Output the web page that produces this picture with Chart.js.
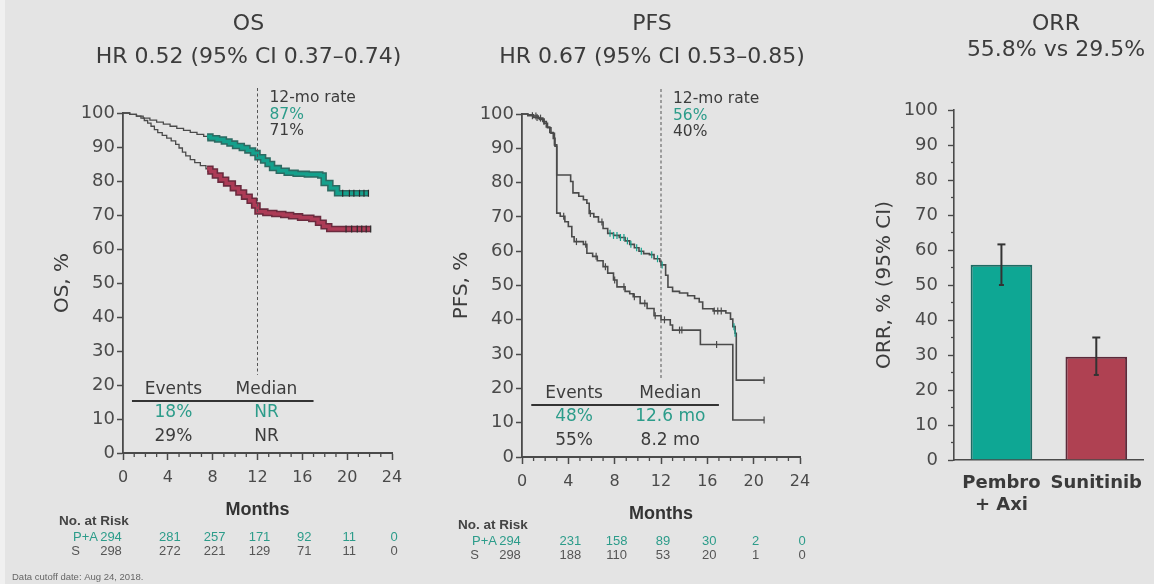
<!DOCTYPE html>
<html>
<head>
<meta charset="utf-8">
<title>KEYNOTE-426 efficacy: OS, PFS and ORR</title>
<script src="https://cdn.jsdelivr.net/npm/chart.js@4.4.0/dist/chart.umd.min.js"></script>
<style>
  html, body { margin: 0; padding: 0; width: 1154px; height: 584px; overflow: hidden; background: #e4e4e4; }
  .edge { position: absolute; left: 0; top: 0; width: 5px; height: 584px; background: #f0f0f0; }
  canvas { position: absolute; top: 0; }
  #os { left: 0; }
  #pfs { left: 420px; }
  #orr { left: 860px; }
</style>
</head>
<body>
<div class="edge"></div>
<canvas id="os" width="430" height="584"></canvas>
<canvas id="pfs" width="420" height="584"></canvas>
<canvas id="orr" width="294" height="584"></canvas>
<script>
// ---- Panel texts ----
const osTitle = ['OS', 'HR 0.52 (95% CI 0.37–0.74)'];
const pfsTitle = ['PFS', 'HR 0.67 (95% CI 0.53–0.85)'];
const orrTitle = ['ORR', '55.8% vs 29.5%'];
const rateHeading = '12-mo rate';
const osRate12 = ['87%', '71%'];
const pfsRate12 = ['56%', '40%'];
const tableHeads = ['Events', 'Median'];
const osEvents = ['18%', '29%'];
const osMedian = ['NR', 'NR'];
const pfsEvents = ['48%', '55%'];
const pfsMedian = ['12.6 mo', '8.2 mo'];
const armLabels = ['P+A', 'S'];
const cutoffNote = 'Data cutoff date: Aug 24, 2018.';

// ---- Numbers at risk ----
const riskMonths = [0, 4, 8, 12, 16, 20, 24];
const osRiskPA = [294, 281, 257, 171, 92, 11, 0];
const osRiskS = [298, 272, 221, 129, 71, 11, 0];
const pfsRiskPA = [294, 231, 158, 89, 30, 2, 0];
const pfsRiskS = [298, 188, 110, 53, 20, 1, 0];

// ---- Kaplan-Meier steps: [month, % event-free] ----
const osPembroAxi = [[0,100],[0.6,99.6],[1.2,99.1],[1.8,98.5],[2.4,97.9],[3.0,97.3],[3.6,96.7],[4.2,96.1],
  [4.8,95.5],[5.4,94.9],[6.0,94.3],[6.6,93.7],[7.2,93.1],[7.8,92.6],[8.4,92.2],[9.0,91.6],[9.5,91.0],
  [10.0,90.3],[10.6,89.7],[11.1,89.0],[11.6,88.2],[12.0,87.0],[12.5,86.0],[12.9,85.0],[13.3,83.8],
  [13.9,83.0],[14.6,82.4],[15.4,82.1],[16.4,81.9],[17.6,81.6],[17.9,79.4],[18.5,77.9],[19.1,76.4],[21.9,76.4]];
const osSunitinib = [[0,100],[0.6,99.6],[1.2,99.1],[1.6,98.5],[1.9,97.8],[2.2,97.0],[2.5,96.1],[2.8,95.1],
  [3.1,94.2],[3.5,93.4],[3.9,92.6],[4.3,91.8],[4.7,90.8],[5.0,89.7],[5.3,88.5],[5.6,87.4],[6.0,86.3],
  [6.4,85.4],[6.9,84.5],[7.4,83.6],[7.8,82.8],[8.2,81.6],[8.7,80.4],[9.2,79.3],[9.8,77.9],[10.3,76.6],
  [10.8,75.4],[11.3,74.2],[11.7,72.8],[12.0,71.0],[12.7,70.6],[13.5,70.3],[14.3,70.0],[15.0,69.6],
  [15.8,69.2],[16.8,68.8],[17.4,67.7],[17.9,66.7],[18.4,65.9],[22.1,65.9]];
const osBandStart = 7.5;
const osPembroAxiCensored = [19.6, 20.2, 20.6, 21.1, 21.5, 21.9];
const osSunitinibCensored = [19.9, 20.4, 20.9, 21.3, 21.7, 22.1];

const pfsPembroAxi = [[0,100],[0.5,99.8],[1.0,99.4],[1.4,98.8],[1.8,97.8],[2.1,96.2],[2.4,94.6],[2.7,92.9],
  [2.85,90.6],[3.0,82.2],[4.2,80.3],[4.4,77.0],[4.9,76.0],[5.3,75.0],[5.6,74.0],[5.8,71.0],[6.2,70.0],
  [6.6,68.5],[7.0,66.6],[7.4,65.2],[7.9,64.6],[8.4,64.0],[8.9,63.0],[9.3,62.0],[9.7,61.0],[10.1,60.0],
  [10.5,59.3],[11.0,59.0],[11.4,57.8],[11.9,57.0],[12.0,56.0],[12.4,53.0],[12.6,49.5],[13.0,48.3],
  [13.6,47.8],[14.3,47.0],[14.9,46.2],[15.3,45.2],[15.6,43.2],[16.5,42.6],[17.6,42.0],[18.0,40.2],
  [18.2,38.0],[18.4,36.1],[18.5,22.4],[20.9,22.4]];
const pfsSunitinib = [[0,100],[0.5,99.5],[1.0,99.0],[1.5,98.4],[1.9,97.3],[2.2,96.0],[2.5,94.4],[2.8,91.0],
  [3.0,71.1],[3.3,70.2],[3.7,68.6],[4.0,67.2],[4.3,64.2],[4.5,62.8],[5.3,62.0],[5.6,59.4],[6.1,58.5],
  [6.5,57.2],[7.0,55.5],[7.4,53.6],[7.9,51.6],[8.2,49.6],[8.9,48.3],[9.3,47.6],[9.6,46.7],[10.2,44.8],
  [10.8,43.3],[11.4,41.2],[12.0,40.0],[12.8,38.5],[13.0,37.0],[15.4,32.8],[18.2,10.8],[20.9,10.8]];
const pfsPembroAxiCensored = [1.2, 1.6, 1.9, 5.9, 6.9, 16.6, 16.9, 17.2, 20.9];
const pfsPembroAxiCensoredTeal = [7.6, 7.9, 8.2, 8.5, 8.8, 9.1, 9.4, 9.9, 10.3, 11.2, 11.7, 12.1, 18.3, 18.4];
const pfsSunitinibCensored = [0.9, 1.3, 3.6, 4.7, 5.5, 6.4, 7.2, 8.0, 8.8, 9.7, 10.6, 11.5, 12.3, 13.6, 13.8, 16.8, 20.9];

// ---- Objective response rate ----
const orrCategories = [['Pembro', '+ Axi'], 'Sunitinib'];
const orrValues = [55.8, 29.5];
const orrCiLow = [50.0, 24.3];
const orrCiHigh = [61.6, 35.0];

// ---- Styling ----
const SANS = '"DejaVu Sans", Verdana, sans-serif';
const ARIAL = '"Liberation Sans", Arial, sans-serif';
const AXIS = '#4a4a4a';
const TXT = '#3c3c3c';
const TICK_TXT = '#4a4a4a';
const TEAL = '#14a08c';
const TEAL_TXT = '#2c9c8a';
const TEAL_EDGE = '#2d6a62';
const CRIMSON = '#ac3b56';
const CRIMSON_EDGE = '#6a2b3e';
const CURVE = '#4a4a4a';

function survivalAt(steps, t) {
  let v = steps[0][1];
  for (const [m, s] of steps) { if (m <= t) v = s; }
  return v;
}
function stepsFrom(steps, from) {
  return [[from, survivalAt(steps, from)], ...steps.filter(([m]) => m > from)];
}
function toXY(steps) { return steps.map(([m, s]) => ({ x: m, y: s })); }
function seg(ctx, x1, y1, x2, y2) { ctx.beginPath(); ctx.moveTo(x1, y1); ctx.lineTo(x2, y2); ctx.stroke(); }
function text(ctx, str, x, y, font, color, align = 'center') {
  ctx.font = font; ctx.fillStyle = color; ctx.textAlign = align; ctx.textBaseline = 'middle';
  ctx.fillText(str, x, y);
}

// Panel decorations: titles, 12-month marker, events table, axis titles and risk table
function kmDecor(cfg) {
  return {
    id: 'kmDecor',
    afterDraw(chart) {
      const { ctx, chartArea: a, scales: { x, y } } = chart;
      const cx = (a.left + a.right) / 2;
      ctx.save();

      ctx.strokeStyle = AXIS; ctx.lineWidth = 1.3;
      for (let m = 1; m < 24; m++) {
        if (m % 4) { const px = x.getPixelForValue(m); seg(ctx, px, a.bottom, px, a.bottom + 4); }
      }

      const x12 = x.getPixelForValue(12);
      ctx.setLineDash([3, 2.5]); ctx.lineWidth = 1; ctx.strokeStyle = '#555';
      seg(ctx, x12, a.top - 25, x12, y.getPixelForValue(23));
      ctx.setLineDash([]);

      const titleFont = '22px ' + SANS;
      text(ctx, cfg.title[0], cx - 9, 24, titleFont, TXT);
      text(ctx, cfg.title[1], cx - 9, 57, titleFont, TXT);

      const rateFont = '15.5px ' + SANS;
      text(ctx, rateHeading, x12 + 12, a.top - 15, rateFont, TXT, 'left');
      text(ctx, cfg.rate[0], x12 + 12, a.top + 2, rateFont, TEAL_TXT, 'left');
      text(ctx, cfg.rate[1], x12 + 12, a.top + 18, rateFont, TXT, 'left');

      const tFont = '17px ' + SANS;
      const cEv = x.getPixelForValue(4.5), cMed = x.getPixelForValue(12.8);
      text(ctx, tableHeads[0], cEv, a.bottom - 63, tFont, TXT);
      text(ctx, tableHeads[1], cMed, a.bottom - 63, tFont, TXT);
      ctx.lineWidth = 2; ctx.strokeStyle = '#333';
      seg(ctx, x.getPixelForValue(0.8), a.bottom - 52, x.getPixelForValue(17), a.bottom - 52);
      text(ctx, cfg.events[0], cEv, a.bottom - 40, tFont, TEAL_TXT);
      text(ctx, cfg.median[0], cMed, a.bottom - 40, tFont, TEAL_TXT);
      text(ctx, cfg.events[1], cEv, a.bottom - 16, tFont, TXT);
      text(ctx, cfg.median[1], cMed, a.bottom - 16, tFont, TXT);

      text(ctx, 'Months', cx, a.bottom + 57, 'bold 18px ' + ARIAL, '#333');

      ctx.save();
      ctx.translate(a.left - 60, (a.top + a.bottom) / 2);
      ctx.rotate(-Math.PI / 2);
      text(ctx, cfg.yTitle, 0, 0, '20px ' + SANS, TXT);
      ctx.restore();

      text(ctx, 'No. at Risk', a.left - 64, a.bottom + 68, 'bold 13.5px ' + ARIAL, '#444', 'left');
      const rFont = '13px ' + ARIAL;
      const rowY = [a.bottom + 84, a.bottom + 98];
      text(ctx, armLabels[0], a.left - 25, rowY[0], rFont, TEAL_TXT, 'right');
      text(ctx, armLabels[1], a.left - 43, rowY[1], rFont, '#555', 'right');
      riskMonths.forEach((m, i) => {
        const px = i === 0 ? a.left - 12 : x.getPixelForValue(m) + 2;
        text(ctx, String(cfg.riskPA[i]), px, rowY[0], rFont, TEAL_TXT);
        text(ctx, String(cfg.riskS[i]), px, rowY[1], rFont, '#555');
      });

      if (cfg.note) text(ctx, cfg.note, 12, 577, '9.5px ' + ARIAL, '#666', 'left');
      ctx.restore();
    }
  };
}

function kmChart(id, cfg) {
  const datasets = [];
  cfg.censor.forEach(c => datasets.push({
    data: c.times.map(t => ({ x: t, y: survivalAt(c.steps, t) })),
    showLine: false, pointStyle: 'line', pointRotation: 90, pointRadius: 3.5,
    pointBorderWidth: 1.2, pointBorderColor: c.color, clip: false
  }));
  cfg.bands.forEach(b => datasets.push({
    data: toXY(stepsFrom(b.steps, b.from)), stepped: true, borderColor: b.color,
    borderWidth: 3.4, pointRadius: 0, clip: false
  }));
  cfg.bands.forEach(b => datasets.push({
    data: toXY(stepsFrom(b.steps, b.from)), stepped: true, borderColor: b.edge,
    borderWidth: 6.5, pointRadius: 0, clip: false
  }));
  cfg.curves.forEach(c => datasets.push({
    data: toXY(c), stepped: true, borderColor: CURVE, borderWidth: cfg.lineWidth,
    pointRadius: 0, clip: false
  }));

  return new Chart(document.getElementById(id), {
    type: 'line',
    data: { datasets },
    options: {
      responsive: false,
      animation: false,
      events: [],
      layout: { padding: { left: 0, right: cfg.padRight, top: cfg.top, bottom: cfg.padBottom } },
      plugins: { legend: { display: false }, tooltip: { enabled: false }, title: { display: false } },
      scales: {
        x: {
          type: 'linear', min: 0, max: 24,
          afterFit: s => { s.height = 30; },
          ticks: { stepSize: 4, font: { family: SANS, size: 16 }, color: TICK_TXT, padding: 8, maxRotation: 0, autoSkip: false },
          grid: { drawOnChartArea: false, tickLength: 7, tickWidth: 1.5, tickColor: AXIS },
          border: { color: AXIS, width: 2 }
        },
        y: {
          min: 0, max: 100,
          afterFit: s => { s.width = cfg.left; },
          ticks: { stepSize: 10, font: { family: SANS, size: 18 }, color: TICK_TXT, padding: 2 },
          grid: { drawOnChartArea: false, tickLength: 6, tickWidth: 1.5, tickColor: AXIS },
          border: { color: AXIS, width: 1.8 }
        }
      }
    },
    plugins: [kmDecor(cfg)]
  });
}

kmChart('os', {
  left: 123, padRight: 38, top: 113, padBottom: 584 - 453 - 30, lineWidth: 1.3,
  title: osTitle, rate: osRate12, events: osEvents, median: osMedian, yTitle: 'OS, %',
  riskPA: osRiskPA, riskS: osRiskS, note: cutoffNote,
  curves: [osPembroAxi, osSunitinib],
  bands: [
    { steps: osPembroAxi, from: osBandStart, color: TEAL, edge: TEAL_EDGE },
    { steps: osSunitinib, from: osBandStart, color: CRIMSON, edge: CRIMSON_EDGE }
  ],
  censor: [
    { steps: osPembroAxi, times: osPembroAxiCensored, color: '#2a2a2a' },
    { steps: osSunitinib, times: osSunitinibCensored, color: '#2a2a2a' }
  ]
});

kmChart('pfs', {
  left: 102, padRight: 40, top: 114, padBottom: 584 - 457 - 30, lineWidth: 1.6,
  title: pfsTitle, rate: pfsRate12, events: pfsEvents, median: pfsMedian, yTitle: 'PFS, %',
  riskPA: pfsRiskPA, riskS: pfsRiskS, note: null,
  curves: [pfsPembroAxi, pfsSunitinib],
  bands: [],
  censor: [
    { steps: pfsPembroAxi, times: pfsPembroAxiCensoredTeal, color: TEAL },
    { steps: pfsPembroAxi, times: pfsPembroAxiCensored, color: '#4a4a4a' },
    { steps: pfsSunitinib, times: pfsSunitinibCensored, color: '#4a4a4a' }
  ]
});

// Response-rate bars with 95% CI whiskers
const orrDecor = {
  id: 'orrDecor',
  afterDraw(chart) {
    const { ctx, chartArea: a, scales: { y } } = chart;
    ctx.save();
    text(ctx, orrTitle[0], 196, 24, '22px ' + SANS, TXT);
    text(ctx, orrTitle[1], 196, 50, '22px ' + SANS, TXT);

    ctx.strokeStyle = AXIS; ctx.lineWidth = 1.3;
    for (let v = 5; v < 100; v += 10) {
      const py = y.getPixelForValue(v); seg(ctx, a.left - 3, py, a.left, py);
    }

    ctx.save();
    ctx.translate(25, (a.top + a.bottom) / 2);
    ctx.rotate(-Math.PI / 2);
    text(ctx, 'ORR, % (95% CI)', 0, 0, '20px ' + SANS, TXT);
    ctx.restore();

    const meta = chart.getDatasetMeta(0);
    ctx.strokeStyle = '#333'; ctx.lineWidth = 2;
    meta.data.forEach((bar, i) => {
      const top = y.getPixelForValue(orrCiHigh[i]);
      const bottom = y.getPixelForValue(orrCiLow[i]);
      seg(ctx, bar.x, top, bar.x, bottom);
      seg(ctx, bar.x - 4, top, bar.x + 4, top);
      seg(ctx, bar.x - 2.5, bottom, bar.x + 2.5, bottom);
    });
    ctx.restore();
  }
};

new Chart(document.getElementById('orr'), {
  type: 'bar',
  data: {
    labels: orrCategories,
    datasets: [{
      data: orrValues,
      backgroundColor: ['#0ea794', '#af4152'],
      borderColor: ['#1f6a63', '#5c2a3a'],
      borderWidth: 2,
      barPercentage: 0.65,
      categoryPercentage: 1
    }]
  },
  options: {
    responsive: false,
    animation: false,
    events: [],
    layout: { padding: { left: 0, right: 0, top: 110, bottom: 584 - 460 - 60 } },
    plugins: { legend: { display: false }, tooltip: { enabled: false }, title: { display: false } },
    scales: {
      x: {
        afterFit: s => { s.height = 60; },
        ticks: {
          font: { family: SANS, size: 18, weight: 'bold', lineHeight: 1.25 }, color: '#3a3a3a',
          padding: 12, maxRotation: 0, autoSkip: false
        },
        grid: { drawOnChartArea: false, drawTicks: false },
        border: { color: AXIS, width: 1.6 }
      },
      y: {
        min: 0, max: 100,
        afterFit: s => { s.width = 94; },
        ticks: { stepSize: 10, font: { family: SANS, size: 18 }, color: TICK_TXT, padding: 10 },
        grid: { drawOnChartArea: false, tickLength: 6, tickWidth: 1.4, tickColor: AXIS },
        border: { color: AXIS, width: 1.6 }
      }
    }
  },
  plugins: [orrDecor]
});
</script>
</body>
</html>
